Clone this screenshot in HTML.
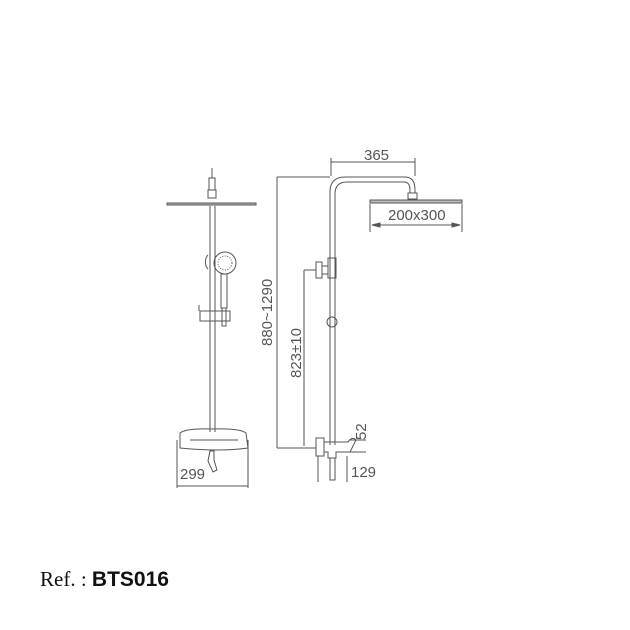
<!DOCTYPE html>
<html><head><style>body{margin:0;background:#fff}svg{display:block}</style></head><body>
<svg width="630" height="630" viewBox="0 0 630 630" xmlns="http://www.w3.org/2000/svg" font-family="Liberation Sans, sans-serif">
<g stroke="#555" stroke-width="1" fill="none">
<!-- LEFT VIEW -->
<line x1="212" y1="168" x2="212" y2="178"/>
<rect x="209" y="178" width="6" height="12"/>
<rect x="208" y="190" width="8" height="8"/>
<path d="M167 203 L256 203 L256 205 L167 205 Z" fill="#bbb"/>
<line x1="210" y1="206" x2="210" y2="432"/>
<line x1="215" y1="206" x2="215" y2="432"/>
<path d="M208 255 a5 8 0 0 0 0 14"/>
<circle cx="225" cy="263" r="11"/>
<circle cx="225" cy="263" r="7" stroke-dasharray="1 1.5"/>
<rect x="221" y="274" width="6" height="34"/>
<rect x="222" y="308" width="4" height="18"/>
<rect x="200" y="311" width="30" height="10"/>
<line x1="199" y1="305" x2="199" y2="311"/>
<path d="M180 433 Q186 428 212 429 Q240 428 246 433 L248 448 Q220 452 180 448 Z"/>
<line x1="190" y1="440" x2="238" y2="440"/>
<path d="M210 451 L214 451 L214 460 L217 470 L213 472 L208 461 Z"/>
<line x1="177" y1="440" x2="177" y2="488"/>
<line x1="248" y1="440" x2="248" y2="488"/>
<line x1="177" y1="486" x2="248" y2="486"/>
<!-- RIGHT VIEW -->
<path d="M330 445 L330 192 Q330 177 345 177 L405 177 Q415 177 415 190 L415 193"/>
<path d="M335 445 L335 194 Q335 182 347 182 L404 182 Q410 182 410 190 L410 193"/>
<rect x="408" y="193" width="9" height="6"/>
<path d="M370 200 L462 200 L462 203 L370 203 Z" fill="#bbb"/>
<rect x="328" y="258" width="8" height="20"/>
<rect x="322" y="266" width="6" height="8"/>
<rect x="316" y="262" width="6" height="16"/>
<circle cx="332" cy="322" r="5"/>
<rect x="316" y="438" width="8" height="18"/>
<path d="M324 442 L348 442 Q352 436 356 440 L350 452 L336 452 L336 458 L328 458 L328 452 L324 452 Z"/>
<rect x="330" y="458" width="5" height="22"/>
<line x1="350" y1="440" x2="366" y2="440"/>
<line x1="350" y1="452" x2="366" y2="452"/>
<!-- dimensions -->
<line x1="331" y1="162" x2="415" y2="162"/>
<line x1="331" y1="158" x2="331" y2="176"/>
<line x1="415" y1="158" x2="415" y2="176"/>
<line x1="370" y1="204" x2="370" y2="232"/>
<line x1="462" y1="204" x2="462" y2="232"/>
<line x1="372" y1="225" x2="460" y2="225"/>
<path d="M372 225 l8 -2 v4 Z M460 225 l-8 -2 v4 Z" fill="#555"/>
<line x1="277" y1="177" x2="330" y2="177"/>
<line x1="277" y1="177" x2="277" y2="448"/>
<line x1="277" y1="448" x2="316" y2="448"/>
<line x1="304" y1="270" x2="316" y2="270"/>
<line x1="304" y1="270" x2="304" y2="446"/>
<line x1="318" y1="456" x2="318" y2="482"/>
<line x1="347" y1="456" x2="347" y2="482"/>
</g>
<g fill="#555" font-size="15">
<text x="180" y="479">299</text>
<text x="364" y="160">365</text>
<text x="388" y="220">200x300</text>
<text x="351" y="477">129</text>
<text transform="translate(272,346) rotate(-90)">880~1290</text>
<text transform="translate(301,378) rotate(-90)">823±10</text>
<text transform="translate(366,440) rotate(-90)">52</text>
</g>
<text x="40" y="586" font-family="Liberation Serif, serif" font-size="21" fill="#111">Ref. : <tspan font-family="Liberation Sans, sans-serif" font-weight="bold">BTS016</tspan></text>
</svg>
</body></html>
